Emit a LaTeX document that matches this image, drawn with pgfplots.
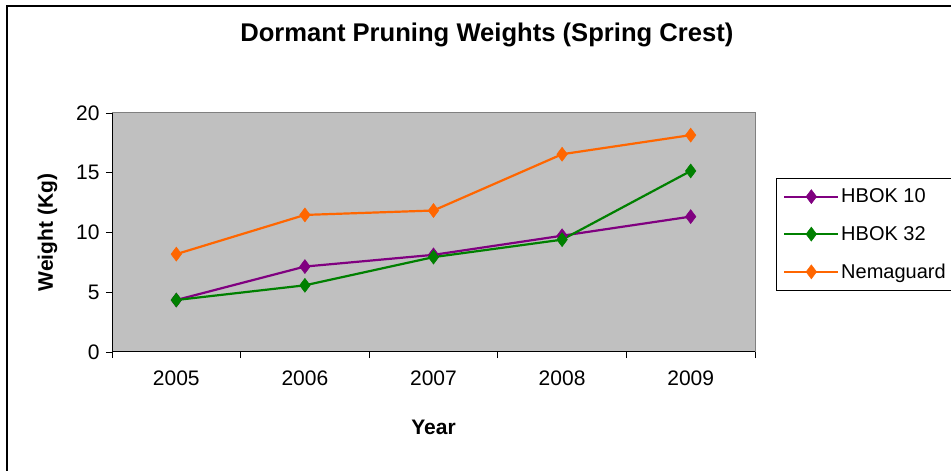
\documentclass[border=0pt]{standalone}
\usepackage{fontspec}
\setmainfont{Liberation Sans}
\usepackage{pgfplots}
\pgfplotsset{compat=1.18}
\definecolor{plotgray}{HTML}{C0C0C0}
\definecolor{framegray}{HTML}{808080}
\definecolor{xlpurple}{HTML}{800080}
\definecolor{xlgreen}{HTML}{008000}
\definecolor{xlorange}{HTML}{FF6600}
\begin{document}
\begin{tikzpicture}[x=1pt,y=1pt]
\begin{axis}[
  at={(112pt,119pt)}, anchor=south west,
  scale only axis, width=643pt, height=239pt,
  xmin=-0.5, xmax=4.5, ymin=0, ymax=20,
  axis x line*=bottom, axis y line*=left,
  axis line style={black, line width=1pt},
  axis background/.style={fill=plotgray, draw=framegray, line width=1pt},
  xtick={0,1,2,3,4}, xticklabels={2005,2006,2007,2008,2009},
  minor xtick={-0.5,0.5,1.5,2.5,3.5,4.5},
  ytick={0,5,10,15,20},
  tick align=outside,
  major tick length=6pt, minor tick length=6pt,
  major x tick style={draw=none},
  tick style={black, line width=0.8pt},
  /pgf/number format/assume math mode=true,
  tick label style={font=\fontsize{21}{25}\selectfont},
  xticklabel style={yshift=-9pt},
  yticklabel style={xshift=-3pt},
  label style={font=\bfseries\fontsize{21}{25}\selectfont},
  xlabel={Year},
  xlabel style={at={(axis description cs:0.5,-0.347)}, anchor=base},
  ylabel={Weight (Kg)},
  ylabel style={at={(axis description cs:-0.0918,0.5)}, anchor=base, rotate=0},
  title={Dormant Pruning Weights (Spring Crest)},
  title style={font=\bfseries\fontsize{25.6}{30}\selectfont, at={(axis description cs:0.583,1.272)}, anchor=base},
  clip=false,
  legend style={at={(axis description cs:1.0327,0.73)}, anchor=north west,
    draw=black, fill=white, line width=0.8pt,
    font=\fontsize{20}{24}\selectfont, row sep=18pt, inner xsep=7pt, inner ysep=9pt},
  legend cell align=left,
  legend image code/.code={
    \draw[line width=1.8pt, mark repeat=2,mark phase=2] plot coordinates {(0pt,0pt) (27pt,0pt) (54pt,0pt)};
  },
  every axis plot/.append style={line width=2.2pt, mark=diamond*, mark size=7pt, mark options={line width=0.5pt}},
]
\addplot[color=xlpurple] coordinates {(0,4.35) (1,7.15) (2,8.13) (3,9.73) (4,11.33)};
\addlegendentry{HBOK 10}
\addplot[color=xlgreen] coordinates {(0,4.35) (1,5.58) (2,7.94) (3,9.40) (4,15.15)};
\addlegendentry{HBOK 32}
\addplot[color=xlorange] coordinates {(0,8.19) (1,11.47) (2,11.84) (3,16.55) (4,18.15)};
\addlegendentry{Nemaguard}
\end{axis}
\draw[black, line width=1.5pt] (7,0) -- (7,465) -- (960,465);
\pgfresetboundingbox
\useasboundingbox (0,0) rectangle (951,471);
\end{tikzpicture}
\end{document}
